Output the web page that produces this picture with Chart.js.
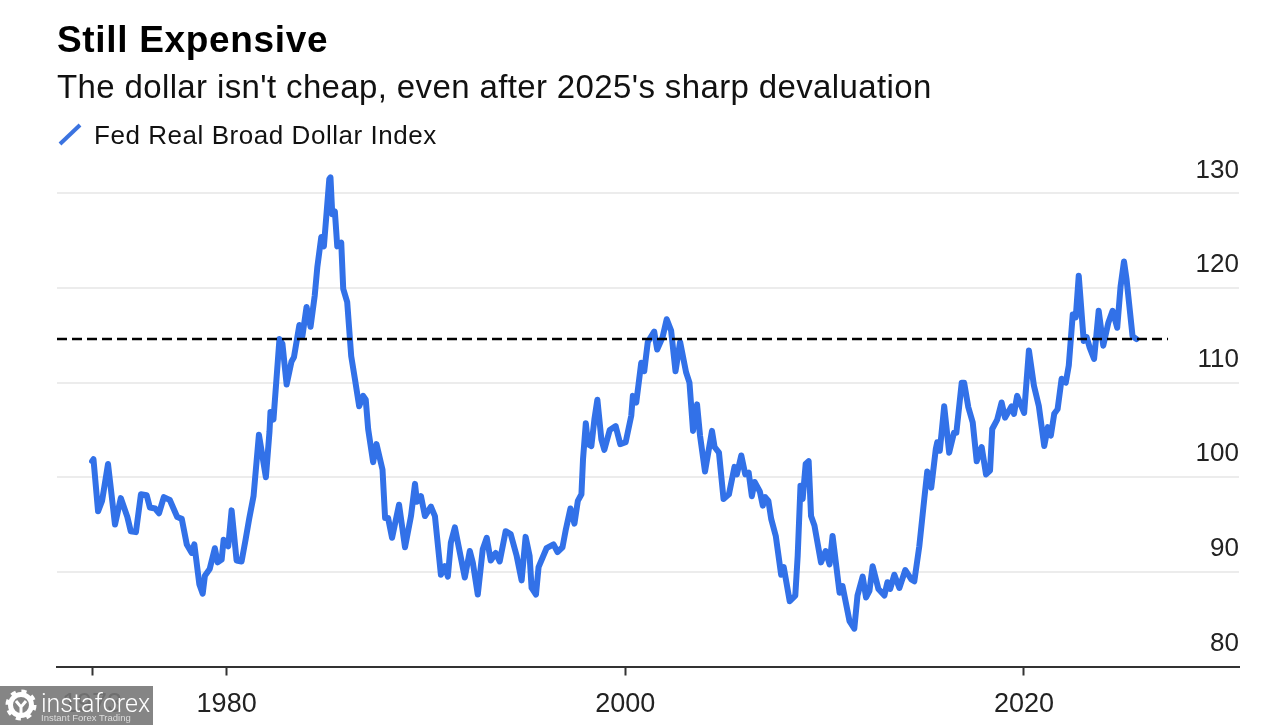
<!DOCTYPE html>
<html>
<head>
    <title>Still Expensive</title>
    <script src="https://cdn.jsdelivr.net/npm/chart.js"></script>
    <style>
        body {
            margin: 0;
            background-color: white;
            font-family: 'Liberation Sans', sans-serif;
            color: #111;
        }
        #wrap { position: relative; width: 1280px; height: 725px; overflow: hidden; }
        #chart { position: absolute; left: 0; top: 0; }
        #title { position: absolute; left: 57px; top: 19px; font-size: 37px; letter-spacing: 0.67px; font-weight: bold; color: #000; }
        #subtitle { position: absolute; left: 57px; top: 68px; font-size: 33px; letter-spacing: 0.37px; }
        #legend { position: absolute; left: 94px; top: 120px; font-size: 26px; letter-spacing: 0.55px; }
        #legend-icon { position: absolute; left: 57px; top: 122px; }
        #mark {
            position: absolute; left: 0; top: 686px; width: 153px; height: 39px;
            background-color: rgba(120,120,120,0.9); color: white;
        }
        #mark svg { position: absolute; left: 5px; top: 3px; }
        #mark .name { position: absolute; left: 41px; top: 3px; font-family: Roboto, sans-serif; font-weight: 300; font-size: 25px; }
        #mark .tag { position: absolute; left: 41px; top: 26px; font-size: 9.5px; color: #ddd; }
    </style>
</head>
<body>
<div id="wrap">
    <canvas id="chart" width="1280" height="725"></canvas>
    <div id="title">Still Expensive</div>
    <div id="subtitle">The dollar isn't cheap, even after 2025's sharp devaluation</div>
    <svg id="legend-icon" width="26" height="26"><line x1="3" y1="22" x2="23" y2="3" stroke="#3b73e0" stroke-width="4"/></svg>
    <div id="legend">Fed Real Broad Dollar Index</div>
    <div id="mark">
        <svg width="32" height="32" viewBox="0 0 32 32" fill="none" stroke="white">
            <circle cx="16" cy="16" r="10.5" stroke-width="5"/>
            <circle cx="16" cy="16" r="13.5" stroke-width="4" stroke-dasharray="5 5.6"/>
            <path d="M11 12 L16 18 L21 12 M16 18 V28" stroke-width="3"/>
        </svg>
        <span class="name">instaforex</span><span class="tag">Instant Forex Trading</span>
    </div>
</div>
<script>
    const dates = [
        1973.25, 1973.32, 1973.55, 1973.75, 1974.05, 1974.40, 1974.69, 1975.02, 1975.19, 1975.45,
        1975.70, 1975.99, 1976.15, 1976.41, 1976.61, 1976.85, 1977.15, 1977.52, 1977.75, 1978.00,
        1978.25, 1978.38, 1978.63, 1978.80, 1978.91, 1979.15, 1979.41, 1979.55, 1979.75, 1979.85,
        1980.08, 1980.25, 1980.50, 1980.75, 1980.95, 1981.13, 1981.35, 1981.62, 1981.97, 1982.15,
        1982.20, 1982.35, 1982.65, 1982.80, 1983.01, 1983.25, 1983.38, 1983.65, 1983.80, 1984.01,
        1984.21, 1984.42, 1984.55, 1984.75, 1984.88, 1985.15, 1985.21, 1985.30, 1985.43, 1985.55,
        1985.75, 1985.85, 1986.05, 1986.25, 1986.45, 1986.65, 1986.85, 1986.98, 1987.10, 1987.35,
        1987.52, 1987.82, 1987.95, 1988.10, 1988.30, 1988.65, 1988.95, 1989.25, 1989.45, 1989.55,
        1989.75, 1989.95, 1990.25, 1990.45, 1990.75, 1990.95, 1991.10, 1991.25, 1991.45, 1991.95,
        1992.20, 1992.35, 1992.60, 1992.85, 1993.05, 1993.25, 1993.50, 1993.70, 1994.00, 1994.25,
        1994.55, 1994.80, 1995.00, 1995.20, 1995.30, 1995.52, 1995.65, 1996.05, 1996.40, 1996.60,
        1996.85, 1997.02, 1997.25, 1997.45, 1997.62, 1997.80, 1997.88, 1998.02, 1998.13, 1998.30,
        1998.45, 1998.60, 1998.80, 1998.95, 1999.22, 1999.52, 1999.75, 2000.02, 2000.30, 2000.38,
        2000.55, 2000.80, 2000.95, 2001.13, 2001.45, 2001.60, 2001.87, 2002.08, 2002.30, 2002.52,
        2002.75, 2003.05, 2003.22, 2003.40, 2003.60, 2003.75, 2004.00, 2004.35, 2004.48, 2004.70,
        2004.93, 2005.20, 2005.48, 2005.60, 2005.82, 2006.02, 2006.19, 2006.35, 2006.49, 2006.75,
        2006.90, 2007.02, 2007.18, 2007.32, 2007.55, 2007.82, 2007.95, 2008.25, 2008.53, 2008.65,
        2008.79, 2008.90, 2009.05, 2009.20, 2009.32, 2009.49, 2009.82, 2010.05, 2010.25, 2010.40,
        2010.75, 2010.90, 2011.25, 2011.49, 2011.65, 2011.91, 2012.08, 2012.25, 2012.41, 2012.70,
        2013.00, 2013.15, 2013.29, 2013.50, 2013.75, 2014.05, 2014.35, 2014.50, 2014.75, 2015.00,
        2015.15, 2015.35, 2015.58, 2015.65, 2015.78, 2016.00, 2016.25, 2016.49, 2016.61, 2016.88,
        2017.00, 2017.21, 2017.43, 2017.63, 2017.88, 2018.10, 2018.30, 2018.41, 2018.66, 2018.88,
        2019.05, 2019.38, 2019.50, 2019.66, 2020.01, 2020.25, 2020.50, 2020.75, 2021.02, 2021.20,
        2021.35, 2021.52, 2021.69, 2021.89, 2022.10, 2022.25, 2022.45, 2022.60, 2022.75, 2023.00,
        2023.15, 2023.30, 2023.52, 2023.75, 2023.98, 2024.23, 2024.45, 2024.68, 2024.85, 2025.02,
        2025.15, 2025.45, 2025.65
    ];
    const index = [
        101.7, 101.9, 96.4, 97.5, 101.4, 95.0, 97.8, 95.8, 94.3, 94.2,
        98.2, 98.1, 96.8, 96.7, 96.2, 97.9, 97.6, 95.8, 95.6, 92.9,
        92.0, 92.9, 88.7, 87.7, 89.6, 90.3, 92.5, 91.0, 91.3, 93.4,
        92.7, 96.5, 91.2, 91.1, 93.4, 95.6, 98.0, 104.5, 100.0, 104.8,
        106.9, 106.1, 114.6, 114.1, 109.8, 112.2, 112.7, 116.1, 114.9, 118.0,
        115.9, 119.2, 122.2, 125.4, 124.4, 131.5, 131.7, 127.8, 128.1, 124.4,
        124.8, 119.9, 118.5, 112.8, 110.2, 107.5, 108.6, 108.2, 105.1, 101.6,
        103.5, 100.8, 95.7, 95.7, 93.6, 97.1, 92.6, 95.9, 99.3, 97.4,
        98.0, 95.9, 96.9, 95.9, 89.7, 90.6, 89.5, 93.1, 94.7, 89.4,
        92.2, 91.0, 87.6, 92.4, 93.6, 91.2, 92.0, 91.1, 94.3, 94.0,
        91.7, 89.1, 93.7, 91.7, 88.3, 87.6, 90.5, 92.5, 92.9, 92.1,
        92.6, 94.5, 96.7, 95.1, 97.5, 98.2, 101.9, 105.7, 103.5, 103.3,
        106.1, 108.2, 104.0, 102.9, 105.0, 105.4, 103.5, 103.7, 106.5, 108.6,
        107.9, 112.1, 111.2, 114.3, 115.4, 113.5, 114.8, 116.7, 115.5, 111.2,
        114.3, 111.1, 110.0, 104.9, 107.7, 104.4, 100.6, 104.9, 103.2, 102.6,
        97.7, 98.2, 101.1, 100.3, 102.3, 100.3, 100.5, 98.0, 99.5, 98.5,
        97.0, 97.9, 97.5, 95.6, 93.8, 89.7, 90.5, 86.9, 87.5, 91.7,
        99.1, 97.7, 101.4, 101.7, 95.9, 94.9, 91.0, 92.2, 90.8, 93.8,
        87.8, 88.5, 84.8, 84.0, 87.5, 89.5, 87.3, 88.0, 90.6, 88.2,
        87.5, 88.9, 88.2, 89.7, 88.3, 90.2, 89.2, 89.0, 92.7, 97.7,
        100.6, 98.9, 103.0, 103.7, 102.8, 107.5, 102.6, 104.7, 104.7, 110.0,
        110.0, 107.4, 105.8, 101.7, 103.2, 100.3, 100.7, 105.1, 106.1, 107.9,
        106.3, 107.5, 106.7, 108.6, 106.8, 113.4, 109.7, 107.5, 103.3, 105.3,
        104.4, 106.7, 107.2, 110.4, 110.0, 111.8, 117.2, 116.9, 121.3, 114.4,
        114.8, 113.7, 112.5, 117.6, 113.9, 116.3, 117.6, 115.8, 120.2, 122.8,
        120.9, 114.9, 114.6
    ];
    const refDates = [1971.49, 2027.23];
    const refLevels = [114.6, 114.6];
    const yTicks = [80, 90, 100, 110, 120, 130];
    const xTicks = [1973.25, 1980, 2000, 2020];
    const xTickLabels = ['1973', '1980', '2000', '2020'];

    const seriesPoints = dates.map((d, i) => ({ x: d, y: index[i] }));
    const refPoints = refDates.map((d, i) => ({ x: d, y: refLevels[i] }));

    new Chart(document.getElementById('chart'), {
        type: 'line',
        data: {
            datasets: [
                {
                    data: refPoints,
                    borderColor: '#000',
                    borderWidth: 2.5,
                    borderDash: [10, 5],
                    pointRadius: 0,
                    order: 0
                },
                {
                    label: 'Fed Real Broad Dollar Index',
                    data: seriesPoints,
                    borderColor: '#3271e8',
                    borderWidth: 6,
                    borderJoinStyle: 'round',
                    borderCapStyle: 'round',
                    pointRadius: 0,
                    tension: 0,
                    clip: false,
                    order: 1
                }
            ]
        },
        options: {
            responsive: false,
            animation: false,
            layout: { padding: { left: 57, right: 41, top: 165, bottom: 0 } },
            plugins: { legend: { display: false }, title: { display: false }, tooltip: { enabled: false } },
            scales: {
                x: {
                    type: 'linear',
                    min: 1971.49,
                    max: 2030.79,
                    afterBuildTicks: axis => { axis.ticks = xTicks.map(v => ({ value: v })); },
                    afterFit: axis => { axis.height = 58.5; },
                    ticks: {
                        font: { family: "'Liberation Sans', sans-serif", size: 27 },
                        color: '#222',
                        padding: 13,
                        maxRotation: 0,
                        autoSkip: false,
                        callback: value => xTickLabels[xTicks.indexOf(value)]
                    },
                    grid: { drawOnChartArea: false, drawTicks: true, tickLength: 9, tickColor: '#333', tickWidth: 2 },
                    border: { color: '#333', width: 2 }
                },
                y: {
                    position: 'right',
                    min: 80,
                    max: 133,
                    afterBuildTicks: axis => { axis.ticks = yTicks.map(v => ({ value: v })); },
                    ticks: {
                        font: { family: "'Liberation Sans', sans-serif", size: 26 },
                        color: '#222',
                        mirror: true,
                        padding: 0,
                        labelOffset: -23,
                        callback: value => String(value)
                    },
                    grid: { color: '#ececec', lineWidth: 2, drawTicks: false },
                    border: { display: false }
                }
            }
        }
    });
</script>
</body>
</html>
